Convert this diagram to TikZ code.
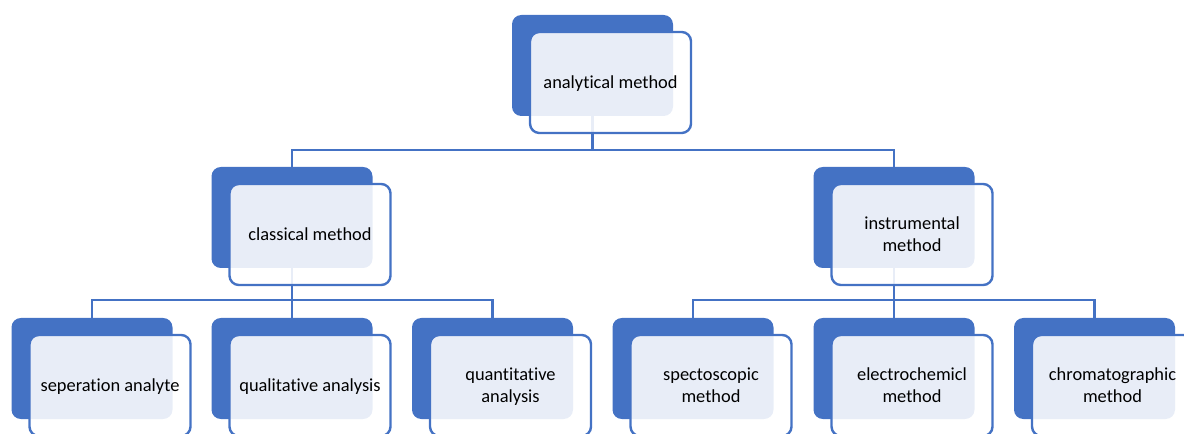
\documentclass[tikz,border=0pt]{standalone}
\usepackage{fontspec}
\setmainfont[Ligatures=NoCommon]{Carlito}
\usetikzlibrary{backgrounds}
\definecolor{smblue}{HTML}{4472C4}
\tikzset{
	back/.style={fill=smblue, rounded corners=7pt, minimum width=120.75pt, minimum height=75.75pt, inner sep=0pt},
	front/.style={draw=smblue, line width=1.8pt, fill=white, fill opacity=0.88, text opacity=1, rounded corners=7pt,
		minimum width=120.75pt, minimum height=75.75pt, inner sep=0pt, align=center, text=black, text depth=0pt,
		font=\fontsize{13.8}{16.5}\selectfont},
	link/.style={draw=smblue, line width=1.8pt}
}
% name, x, y, text
\newcommand{\methodnode}[4]{%
	\node[back] (#1-b) at (#2,#3) {};
	\node[front] (#1) at ([xshift=13.5pt,yshift=-12.75pt]#1-b.center) {#4};}
\begin{document}
\begin{tikzpicture}[x=0.75pt, y={(0pt,-0.75pt)}]
	\useasboundingbox (0,0) rectangle (1184,434);
	\methodnode{am}{592.5}{65.5}{analytical method}
	\methodnode{cm}{292}{217.5}{classical method}
	\methodnode{im}{894}{217.5}{instrumental\\method}
	\methodnode{sa}{92}{368.5}{seperation analyte}
	\methodnode{qla}{292}{368.5}{qualitative analysis}
	\methodnode{qta}{492.5}{368.5}{quantitative\\analysis}
	\methodnode{sm}{693}{368.5}{spectoscopic\\method}
	\methodnode{em}{894}{368.5}{electrochemicl\\method}
	\methodnode{chm}{1094.5}{368.5}{chromatographic\\method}
	% connectors
	\begin{scope}[on background layer]
		\foreach \kid in {cm,im} \draw[link] (am-b.south) -- ++(0,34) -| (\kid-b.north);
		\foreach \kid in {sa,qla,qta} \draw[link] (cm-b.south) -- ++(0,32) -| (\kid-b.north);
		\foreach \kid in {sm,em,chm} \draw[link] (im-b.south) -- ++(0,32) -| (\kid-b.north);
	\end{scope}
\end{tikzpicture}
\end{document}
